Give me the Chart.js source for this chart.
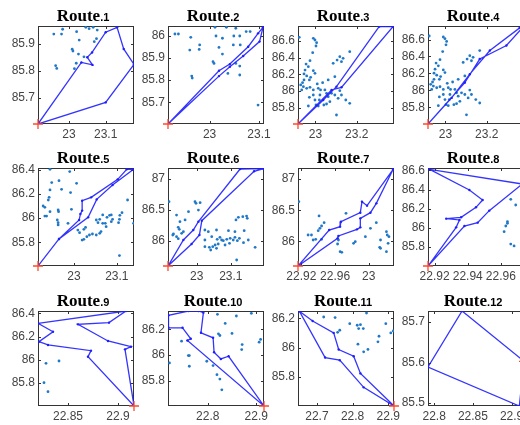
<!DOCTYPE html>
<html lang="en">
<head>
<meta charset="UTF-8">
<title>Routes</title>
<style>
  body { margin: 0; background: #fff; }
  #wrap { position: relative; width: 520px; height: 425px; overflow: hidden; background: #fff; }
  #wrap canvas { position: absolute; }
</style>
</head>
<body>
<div id="wrap"></div>
<script src="https://cdn.jsdelivr.net/npm/chart.js"></script>
<script>
// depot shared by every route
const depot = [22.916, 85.603];

const routeTitles = ['Route.1', 'Route.2', 'Route.3', 'Route.4', 'Route.5', 'Route.6',
                     'Route.7', 'Route.8', 'Route.9', 'Route.10', 'Route.11', 'Route.12'];

// axis limits per panel
const xRanges = [[22.916, 23.177], [22.916, 23.11], [22.916, 23.38], [22.916, 23.38],
                 [22.916, 23.14], [22.916, 23.197], [22.916, 23.03], [22.916, 22.974],
                 [22.82, 22.916], [22.718, 22.916], [22.647, 22.916], [22.792, 22.916]];
const yRanges = [[85.603, 85.966], [85.603, 86.043], [85.603, 86.778], [85.603, 86.76],
                 [85.603, 86.415], [85.603, 87.17], [85.603, 87.18], [85.603, 86.625],
                 [85.603, 86.42], [85.603, 86.344], [85.603, 86.25], [85.493, 85.727]];

// tick labels
const xTicks = [[23, 23.1], [23, 23.1], [23, 23.2], [23, 23.2], [23, 23.1], [23, 23.1],
                [22.92, 22.96, 23], [22.92, 22.94, 22.96], [22.85, 22.9], [22.8, 22.9],
                [22.7, 22.8, 22.9], [22.8, 22.85, 22.9]];
const yTicks = [[85.7, 85.8, 85.9], [85.7, 85.8, 85.9, 86], [85.8, 86, 86.2, 86.4, 86.6],
                [85.8, 86, 86.2, 86.4, 86.6], [85.8, 86, 86.2, 86.4], [86, 86.5, 87],
                [86, 86.5, 87], [85.8, 86, 86.2, 86.4, 86.6], [85.8, 86, 86.2, 86.4],
                [85.8, 86, 86.2], [85.8, 86, 86.2], [85.5, 85.6, 85.7]];

// stops of each route (depot added at both ends)
const route1 = [[23.100, 85.683], [23.177, 85.824], [23.149, 85.881], [23.131, 85.961], [23.100, 85.943],
                [23.063, 85.868], [23.050, 85.850], [23.064, 85.822], [23.034, 85.831]];
const route2 = [[23.019, 85.842], [23.041, 85.872], [23.078, 85.950], [23.098, 86.010], [23.108, 86.037],
                [23.101, 85.973], [23.068, 85.908], [23.041, 85.860], [23.019, 85.818]];
const route3 = [[23.038, 85.891], [23.102, 86.051], [23.308, 86.770], [23.375, 86.770],
                [23.126, 86.043], [23.078, 86.011]];
const route4 = [[23.030, 85.911], [23.118, 86.191], [23.215, 86.470], [23.359, 86.738], [23.378, 86.754],
                [23.295, 86.530], [23.166, 86.370], [23.094, 86.091]];
const route5 = [[22.965, 85.827], [23.012, 85.984], [23.015, 86.034], [23.019, 86.062], [23.019, 86.144],
                [23.040, 86.172], [23.102, 86.321], [23.123, 86.404], [23.139, 86.404], [23.090, 86.274],
                [23.053, 86.155], [23.033, 86.006], [22.965, 85.827]];
const route6 = [[22.961, 86.019], [22.990, 86.179], [23.005, 86.312], [23.127, 87.154], [23.195, 87.159],
                [23.168, 87.117], [23.015, 86.328], [23.008, 86.099], [22.985, 85.955]];
const route7 = [[22.963, 86.048], [22.964, 86.086], [22.986, 86.193], [22.990, 86.225], [22.990, 86.370],
                [23.002, 86.461], [23.009, 86.611], [23.029, 87.159], [22.998, 86.574], [22.992, 86.638],
                [22.990, 86.461], [22.967, 86.316], [22.966, 86.236], [22.953, 86.182]];
const route8 = [[22.938, 86.020], [22.946, 86.055], [22.953, 86.180], [22.973, 86.458], [22.917, 86.611],
                [22.941, 86.396], [22.949, 86.291], [22.945, 86.215], [22.936, 86.111], [22.927, 86.097],
                [22.935, 86.083], [22.933, 86.006]];
const route9 = [[22.870, 86.027], [22.873, 86.079], [22.830, 86.128], [22.821, 86.156], [22.835, 86.242],
                [22.820, 86.314], [22.908, 86.420], [22.891, 86.320], [22.860, 86.305], [22.890, 86.162],
                [22.913, 86.113], [22.907, 86.090]];
const route10 = [[22.758, 86.114], [22.765, 86.127], [22.748, 86.213], [22.719, 86.213], [22.719, 86.310],
                 [22.760, 86.344], [22.781, 86.344], [22.791, 86.331], [22.786, 86.174], [22.811, 86.135],
                 [22.813, 86.022], [22.827, 85.970], [22.843, 85.991]];
const route11 = [[22.831, 85.730], [22.764, 85.915], [22.723, 85.933], [22.651, 86.248], [22.688, 86.182],
                 [22.747, 86.101], [22.761, 85.988], [22.803, 85.942], [22.822, 85.825]];
const route12 = [[22.836, 85.727], [22.792, 85.589], [22.910, 85.493]];

// other customers visible in each panel
const customers1 = [[22.959, 85.936], [22.980, 85.936], [22.983, 85.954], [23.021, 85.945], [23.028, 85.914],
  [23.009, 85.880], [23.011, 85.873], [23.026, 85.862], [23.046, 85.961], [23.055, 85.956], [23.066, 85.961],
  [23.077, 85.951], [23.075, 85.919], [23.069, 85.908], [23.041, 85.852], [23.020, 85.828], [23.015, 85.808],
  [22.964, 85.819], [22.967, 85.809]];
const customers2 = [[22.930, 86.007], [22.937, 86.007], [22.962, 85.992], [22.960, 85.935], [22.979, 85.938],
  [22.980, 85.958], [23.011, 86.037], [23.013, 85.998], [23.019, 85.947], [23.026, 85.917], [23.026, 85.988],
  [23.034, 86.037], [23.049, 85.998], [23.053, 86.033], [23.048, 85.958], [23.061, 85.998], [23.062, 85.958],
  [23.074, 86.018], [23.082, 86.018], [23.007, 85.883], [23.009, 85.875], [23.053, 85.875], [23.061, 85.863],
  [23.061, 85.823], [23.037, 85.830], [22.964, 85.818], [22.965, 85.809], [23.098, 85.688]];
const customers3 = [[22.922, 86.642], [22.990, 86.630], [22.998, 86.610], [23.006, 86.578], [23.003, 86.538],
  [22.987, 86.458], [22.974, 86.362], [22.955, 86.322], [22.966, 86.290], [22.950, 86.250], [22.945, 86.203],
  [22.958, 86.179], [22.990, 86.242], [22.998, 86.210], [22.977, 86.163], [22.971, 86.131], [22.945, 86.131],
  [22.938, 86.099], [22.929, 86.071], [22.942, 86.051], [22.958, 86.031], [22.934, 86.011], [22.974, 86.043],
  [22.990, 86.011], [23.009, 86.083], [23.014, 86.031], [23.025, 86.011], [23.022, 85.951], [22.990, 85.951],
  [22.971, 85.923], [22.998, 85.891], [23.019, 85.891], [23.003, 85.831], [22.966, 85.819], [23.014, 85.819],
  [23.041, 85.831], [23.054, 85.843], [23.070, 85.871], [23.062, 85.931], [23.054, 85.971], [23.046, 86.011],
  [23.078, 85.971], [23.094, 85.951], [23.118, 86.003], [23.126, 85.951], [23.110, 85.911], [23.147, 85.891],
  [23.166, 85.851], [23.102, 85.711], [23.062, 86.131], [23.094, 86.171], [23.086, 86.330], [23.105, 86.370],
  [23.118, 86.410], [23.134, 86.390], [23.126, 86.350], [23.166, 86.470], [23.035, 86.099]];
const customers4 = customers3;
const customers5 = [[22.944, 86.404], [22.990, 86.385], [22.948, 86.294], [22.965, 86.310], [22.971, 86.238],
  [22.944, 86.233], [22.942, 86.172], [22.940, 86.150], [22.928, 86.100], [22.932, 86.089], [22.944, 86.053],
  [22.936, 86.017], [22.932, 86.017], [22.963, 86.067], [22.964, 86.053], [22.992, 86.211], [22.994, 86.073],
  [23.006, 86.288], [22.961, 85.984], [22.963, 85.962], [22.963, 85.943], [23.009, 85.901], [23.013, 85.879],
  [23.023, 85.907], [23.027, 85.923], [23.019, 85.818], [23.023, 85.824], [23.030, 85.846], [23.036, 85.860],
  [23.043, 85.868], [23.052, 85.860], [23.060, 85.874], [23.063, 85.888], [23.056, 85.962], [23.052, 85.984],
  [23.060, 85.990], [23.067, 86.026], [23.077, 86.006], [23.083, 86.023], [23.087, 86.026], [23.067, 85.957],
  [23.073, 85.957], [23.087, 85.970], [23.090, 85.990], [23.107, 86.023], [23.112, 86.045], [23.106, 85.990],
  [23.104, 85.962], [23.075, 85.929], [23.125, 86.150], [23.139, 85.957], [23.106, 85.689], [22.986, 85.957]];
const customers6 = [[22.919, 86.632], [22.946, 86.221], [22.951, 86.312], [22.966, 86.339], [22.976, 86.472],
  [22.995, 86.632], [22.998, 86.605], [23.010, 86.616], [23.005, 86.498], [22.949, 86.189], [22.932, 86.115],
  [22.930, 86.099], [22.941, 86.072], [22.946, 86.040], [22.956, 86.125], [22.961, 86.152], [22.941, 86.418],
  [23.024, 86.179], [23.034, 86.152], [23.058, 86.179], [23.093, 86.168], [23.112, 86.152], [23.115, 86.339],
  [23.122, 86.381], [23.135, 86.392], [23.146, 86.402], [23.148, 86.365], [23.139, 86.168], [23.024, 86.019],
  [23.044, 86.072], [23.060, 86.029], [23.068, 86.061], [23.073, 86.019], [23.078, 86.008], [23.088, 86.029],
  [23.098, 86.045], [23.107, 86.019], [23.112, 86.061], [23.119, 86.008], [23.125, 86.045], [23.137, 85.976],
  [23.054, 85.939], [23.063, 85.955], [23.083, 85.939], [23.096, 85.965], [23.024, 85.912], [23.037, 85.901],
  [23.047, 85.912], [23.058, 85.885], [23.041, 85.859], [23.117, 85.699], [23.171, 85.901], [23.151, 86.019]];
const customers7 = [[22.917, 86.638], [22.941, 86.408], [22.947, 86.300], [22.944, 86.247], [22.942, 86.209],
  [22.940, 86.172], [22.928, 86.102], [22.932, 86.102], [22.934, 86.021], [22.937, 86.032], [22.944, 86.032],
  [22.973, 86.450], [22.964, 86.021], [22.963, 85.957], [22.966, 85.834], [22.968, 85.823], [22.982, 85.968],
  [22.984, 85.995], [22.996, 86.075], [23.002, 86.209], [23.009, 86.300], [23.021, 86.155], [23.022, 86.102],
  [23.024, 86.075], [23.014, 86.021], [23.023, 85.968], [23.013, 85.903], [23.014, 85.887], [23.021, 85.834]];
const customers8 = [[22.966, 86.298], [22.969, 86.239], [22.964, 86.065], [22.964, 86.048], [22.963, 86.020],
  [22.962, 85.961], [22.966, 85.832], [22.968, 85.812]];
const customers9 = [[22.828, 85.970], [22.841, 85.990], [22.826, 85.804], [22.830, 85.726]];
const customers10 = [[22.820, 86.318], [22.859, 86.305], [22.890, 86.326], [22.836, 86.247], [22.822, 86.166],
  [22.825, 86.153], [22.850, 86.169], [22.871, 86.082], [22.870, 86.043], [22.906, 86.101], [22.909, 86.122],
  [22.746, 86.109], [22.760, 85.996], [22.762, 85.996], [22.721, 85.939], [22.762, 85.913], [22.798, 85.952],
  [22.811, 85.918], [22.819, 85.847], [22.825, 85.813], [22.829, 85.729]];
const customers11 = [[22.719, 86.209], [22.751, 86.205], [22.764, 86.119], [22.758, 86.105], [22.792, 86.164],
  [22.813, 86.153], [22.822, 86.157], [22.817, 86.130], [22.830, 86.130], [22.839, 86.236], [22.815, 86.024],
  [22.831, 85.972], [22.843, 85.988], [22.874, 86.078], [22.871, 86.040], [22.893, 86.164], [22.907, 86.101],
  [22.914, 86.114]];
const customers12 = [];

const routes = [route1, route2, route3, route4, route5, route6, route7, route8, route9, route10, route11, route12];
const customers = [customers1, customers2, customers3, customers4, customers5, customers6,
                   customers7, customers8, customers9, customers10, customers11, customers12];

// page layout of the 3x4 grid of plot boxes
const boxLeft = [38, 168, 298, 428];
const boxTop = [26, 168, 311];
const boxH = [98, 98, 95];
const boxW = 96;
const PAD_L = 38, PAD_T = 26, PAD_R = 16, PAD_B = 20;

const tickFont = { family: '"Liberation Sans", Arial, sans-serif', size: 12 };
const tickColor = '#444';

const framePlugin = {
  id: 'frame',
  beforeDatasetsDraw(chart) {
    const { ctx, chartArea: a, scales } = chart;
    ctx.save();
    ctx.strokeStyle = '#333';
    ctx.lineWidth = 1;
    ctx.strokeRect(a.left + 0.5, a.top + 0.5, a.width - 1, a.height - 1);
    ctx.beginPath();
    scales.x.ticks.forEach(t => {
      const px = Math.round(scales.x.getPixelForValue(t.value)) + 0.5;
      ctx.moveTo(px, a.bottom); ctx.lineTo(px, a.bottom - 3);
      ctx.moveTo(px, a.top); ctx.lineTo(px, a.top + 3);
    });
    scales.y.ticks.forEach(t => {
      const py = Math.round(scales.y.getPixelForValue(t.value)) + 0.5;
      ctx.moveTo(a.left, py); ctx.lineTo(a.left + 3, py);
      ctx.moveTo(a.right, py); ctx.lineTo(a.right - 3, py);
    });
    ctx.stroke();
    ctx.restore();
  },
  afterDraw(chart, args, opts) {
    const { ctx, chartArea: a } = chart;
    const parts = opts.text.split('.');
    const head = parts[0], tail = '.' + parts[1];
    ctx.save();
    ctx.fillStyle = '#000';
    ctx.textBaseline = 'alphabetic';
    ctx.font = 'bold 17px "Liberation Serif", "Times New Roman", serif';
    const w1 = ctx.measureText(head).width;
    ctx.font = 'bold 11px "Liberation Sans", Arial, sans-serif';
    const w2 = ctx.measureText(tail).width;
    const x0 = (a.left + a.right) / 2 - 3 - (w1 + w2) / 2;
    const yb = a.top - 5;
    ctx.font = 'bold 17px "Liberation Serif", "Times New Roman", serif';
    ctx.fillText(head, x0, yb);
    ctx.font = 'bold 11px "Liberation Sans", Arial, sans-serif';
    ctx.fillText(tail, x0 + w1, yb);
    ctx.restore();
  }
};

const toXY = p => ({ x: p[0], y: p[1] });

function makePanel(i) {
  const r = Math.floor(i / 4), c = i % 4;
  const canvas = document.createElement('canvas');
  canvas.width = PAD_L + boxW + PAD_R;
  canvas.height = PAD_T + boxH[r] + PAD_B;
  canvas.style.left = (boxLeft[c] - PAD_L) + 'px';
  canvas.style.top = (boxTop[r] - PAD_T) + 'px';
  document.getElementById('wrap').appendChild(canvas);

  const path = [depot].concat(routes[i], [depot]).map(toXY);

  new Chart(canvas, {
    type: 'scatter',
    data: {
      datasets: [
        {
          data: [toXY(depot)],
          pointStyle: 'cross', pointRadius: 5, pointBorderWidth: 1.3,
          borderColor: '#ff4a2a', backgroundColor: '#ff4a2a',
          clip: false, order: 0
        },
        {
          data: path, showLine: true,
          borderColor: 'rgba(30,30,255,0.9)', borderWidth: 1.3,
          pointRadius: 1.2, pointBorderWidth: 0, pointBackgroundColor: '#1e1eff',
          order: 1
        },
        {
          data: customers[i].map(toXY),
          pointRadius: 1.4, pointBorderWidth: 0, backgroundColor: '#1f78c8',
          order: 2
        }
      ]
    },
    options: {
      responsive: false,
      animation: false,
      devicePixelRatio: 1,
      layout: { padding: { left: 0, top: PAD_T, right: PAD_R, bottom: 0 } },
      plugins: {
        legend: { display: false },
        tooltip: { enabled: false },
        frame: { text: routeTitles[i] }
      },
      scales: {
        x: {
          type: 'linear', bounds: 'data',
          min: xRanges[i][0], max: xRanges[i][1],
          afterBuildTicks: s => { s.ticks = xTicks[i].map(v => ({ value: v })); },
          afterFit: s => { s.height = PAD_B; },
          grid: { display: false, drawTicks: false },
          border: { display: false },
          ticks: { font: tickFont, color: tickColor, padding: 3, maxRotation: 0, autoSkip: false,
                   callback: v => String(v) }
        },
        y: {
          type: 'linear', bounds: 'data',
          min: yRanges[i][0], max: yRanges[i][1],
          afterBuildTicks: s => { s.ticks = yTicks[i].map(v => ({ value: v })); },
          afterFit: s => { s.width = PAD_L; },
          grid: { display: false, drawTicks: false },
          border: { display: false },
          ticks: { font: tickFont, color: tickColor, padding: 3, autoSkip: false,
                   callback: v => String(v) }
        }
      }
    },
    plugins: [framePlugin]
  });
}

for (let i = 0; i < 12; i++) makePanel(i);
</script>
</body>
</html>
